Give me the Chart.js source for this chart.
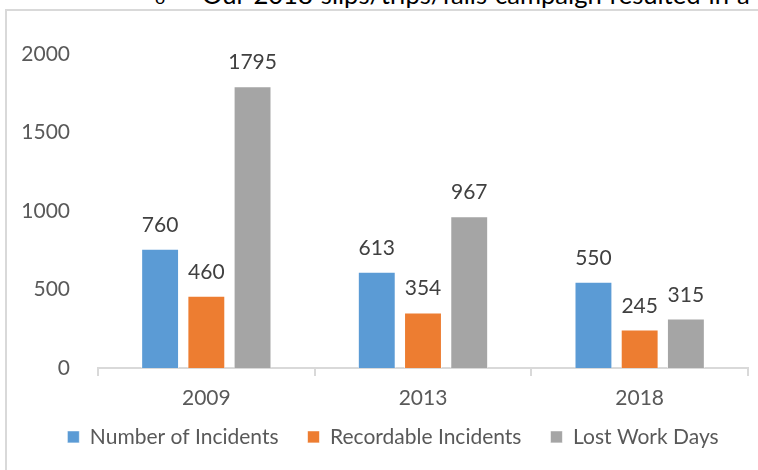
<!DOCTYPE html>
<html>
<head>
<meta charset="utf-8">
<script src="https://cdn.jsdelivr.net/npm/chart.js@4"></script>
<style>
  html, body { margin: 0; padding: 0; background: #fff; overflow: hidden; }
  #page { position: relative; width: 758px; height: 470px; overflow: hidden; }
  #note {
    position: absolute; left: 155px; top: -19px; white-space: nowrap;
    font-family: Lato, "Noto Sans", sans-serif; font-size: 25.6px; line-height: 27px;
    word-spacing: 1.5px; color: #000;
  }
  #note .b { display: inline-block; width: 47px; font-size: 18px; }
  #frame {
    position: absolute; left: 5px; top: 9px; width: 900px; height: 600px;
    border-left: 2px solid #d9d9d9; border-top: 2px solid #d9d9d9;
  }
  #wrap { position: absolute; left: 0; top: 0; width: 758px; height: 470px; }
</style>
</head>
<body>
<div id="page">
  <div id="note"><span class="b">o</span>Our 2018 slips/trips/falls campaign resulted in a</div>
  <div id="frame"></div>
  <div id="wrap"><canvas id="incidentChart" width="758" height="470"></canvas></div>
</div>
<script>
// Dữ liệu biểu đồ
const years = ['2009', '2013', '2018'];
const numberOfIncidents = [760, 613, 550];
const recordableIncidents = [460, 354, 245];
const lostWorkDays = [1795, 967, 315];
const yTicks = [0, 500, 1000, 1500, 2000];

const FONT = 'Lato, "Noto Sans", sans-serif';

// Vẽ nhãn giá trị phía trên cột
const barLabels = {
    id: 'barLabels',
    afterDatasetsDraw(chart) {
        const ctx = chart.ctx;
        ctx.save();
        ctx.font = '21px ' + FONT;
        ctx.fillStyle = '#404040';
        ctx.textAlign = 'center';
        ctx.textBaseline = 'alphabetic';
        chart.data.datasets.forEach((ds, i) => {
            chart.getDatasetMeta(i).data.forEach((bar, j) => {
                ctx.fillText(String(ds.data[j]), bar.x, bar.y - 17);
            });
        });
        ctx.restore();
    }
};

// Chú thích: chiều cao cố định, rồi dời vị trí sau khi bố cục
const legendPlace = {
    id: 'legendPlace',
    afterInit(chart) {
        const legend = chart.legend;
        if (!legend) return;
        const fit = legend.fit;
        legend.fit = function() {
            fit.call(this);
            this.height = 44;
        };
    },
    afterLayout(chart) {
        const legend = chart.legend;
        if (!legend) return;
        const top = 439 - 29 - 12.6;
        legend.top = top;
        legend.bottom = chart.height;
        legend.height = chart.height - top;
        legend.left += 19;
        legend.right += 19;
    }
};

const ctx = document.getElementById('incidentChart').getContext('2d');
const incidentChart = new Chart(ctx, {
    type: 'bar',
    data: {
        labels: years,
        datasets: [{
            label: 'Number of Incidents',
            data: numberOfIncidents,
            backgroundColor: '#5b9bd5',
            borderColor: 'rgba(255,255,255,0.6)',
            borderWidth: 1
        }, {
            label: 'Recordable Incidents',
            data: recordableIncidents,
            backgroundColor: '#ed7d31',
            borderColor: 'rgba(255,255,255,0.6)',
            borderWidth: 1
        }, {
            label: 'Lost Work Days',
            data: lostWorkDays,
            backgroundColor: '#a5a5a5',
            borderColor: 'rgba(255,255,255,0.6)',
            borderWidth: 1
        }]
    },
    options: {
        responsive: false,
        animation: false,
        layout: { padding: { left: 0, right: 10, top: 54, bottom: 11 } },
        datasets: { bar: { categoryPercentage: 0.64, barPercentage: 0.82 } },
        scales: {
            x: {
                afterFit(scale) { scale.height = 47; },
                grid: { display: true, drawOnChartArea: false, drawTicks: true, tickLength: 8, color: '#d9d9d9', lineWidth: 2 },
                border: { display: true, color: '#d9d9d9', width: 2 },
                ticks: { color: '#595959', font: { family: FONT, size: 21 }, padding: 10 }
            },
            y: {
                min: 0,
                max: 2000,
                afterFit(scale) { scale.width = 98; },
                afterBuildTicks(scale) { scale.ticks = yTicks.map(v => ({ value: v })); },
                grid: { display: false },
                border: { display: false },
                ticks: {
                    color: '#595959',
                    font: { family: FONT, size: 21 },
                    padding: 20,
                    callback: v => String(v)
                }
            }
        },
        plugins: {
            legend: {
                position: 'bottom',
                labels: {
                    boxWidth: 12,
                    boxHeight: 12,
                    padding: 29,
                    color: '#595959',
                    font: { family: FONT, size: 21 }
                }
            },
            tooltip: { enabled: false }
        }
    },
    plugins: [barLabels, legendPlace]
});
</script>
</body>
</html>
